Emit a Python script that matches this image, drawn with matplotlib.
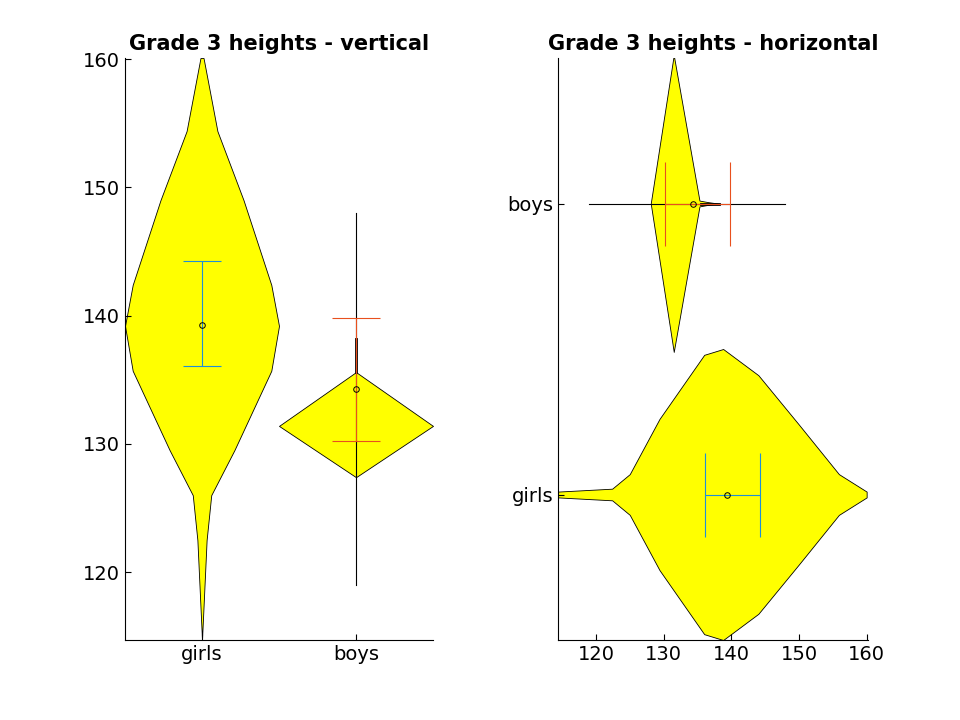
import matplotlib
matplotlib.use("Agg")
import matplotlib.pyplot as plt
import numpy as np

groups = ["girls", "boys"]
# vertical violin outlines: (height value, half width in category units)
girls_v_y = [114.7, 122.5, 126.0, 129.5, 135.7, 139.2, 142.4, 149.0, 154.4, 160.1]
girls_v_w = [0.0, 0.03, 0.06, 0.21, 0.45, 0.50, 0.45, 0.27, 0.10, 0.01]
boys_v_y = [127.4, 131.4, 135.6]
boys_v_w = [0.0, 0.50, 0.0]
# horizontal violin outlines
girls_h_x = [114.4, 122.4, 125.0, 129.4, 136.0, 138.8, 144.0, 150.0, 155.9, 160.0]
girls_h_w = [0.01, 0.02, 0.07, 0.26, 0.48, 0.50, 0.41, 0.24, 0.07, 0.01]
boys_h_x = [128.1, 131.5, 135.3, 136.5, 138.0]
boys_h_w = [0.0, 0.51, 0.01, 0.005, 0.0]

girls_mean, girls_lo, girls_hi = 139.3, 136.1, 144.3
boys_mean, boys_lo, boys_hi = 134.3, 130.2, 139.8
boys_min, boys_max = 119.0, 148.0
boys_q_lo, boys_q_hi = 135.6, 138.2

fig = plt.figure(figsize=(9.6, 7.2), dpi=100)
ax1 = fig.add_axes([125/960, 80/720, 308/960, 582/720])
ax2 = fig.add_axes([558/960, 80/720, 310/960, 582/720])

for ax in (ax1, ax2):
    for s in ("top", "right"):
        ax.spines[s].set_visible(False)
    ax.tick_params(direction="in", labelsize=14, length=4)

# left: vertical
gy = np.array(girls_v_y); gw = np.array(girls_v_w)
ax1.fill_betweenx(gy, 1 - gw, 1 + gw, facecolor="yellow", edgecolor="black", lw=0.6)
by = np.array(boys_v_y); bw = np.array(boys_v_w)
ax1.fill_betweenx(by, 2 - bw, 2 + bw, facecolor="yellow", edgecolor="black", lw=0.6)
ax1.plot([2, 2], [boys_min, boys_max], color="black", lw=0.8)
ax1.plot([2, 2], [boys_q_lo, boys_q_hi], color="black", lw=2)
ax1.errorbar([1], [girls_mean], yerr=[[girls_mean - girls_lo], [girls_hi - girls_mean]],
             color="#1f8fd6", capsize=14, lw=0.8, capthick=0.8)
ax1.errorbar([2], [boys_mean], yerr=[[boys_mean - boys_lo], [boys_hi - boys_mean]],
             color="#e8501e", capsize=17, lw=0.8, capthick=0.8)
ax1.plot([1, 2], [girls_mean, boys_mean], "o", mfc="none", mec="black", ms=4, mew=0.7)
ax1.set_xlim(0.5, 2.5)
ax1.set_ylim(114.7, 160.1)
ax1.set_xticks([1, 2]); ax1.set_xticklabels(groups)
ax1.set_yticks([120, 130, 140, 150, 160])
ax1.set_title("Grade 3 heights - vertical", fontsize=15, fontweight="bold")

# right: horizontal
gx = np.array(girls_h_x); gw2 = np.array(girls_h_w)
ax2.fill_between(gx, 1 - gw2, 1 + gw2, facecolor="yellow", edgecolor="black", lw=0.6)
bx = np.array(boys_h_x); bw2 = np.array(boys_h_w)
ax2.fill_between(bx, 2 - bw2, 2 + bw2, facecolor="yellow", edgecolor="black", lw=0.6)
ax2.plot([boys_min, boys_max], [2, 2], color="black", lw=0.8)
ax2.plot([boys_q_lo, boys_q_hi], [2, 2], color="black", lw=2)
ax2.errorbar([girls_mean], [1], xerr=[[girls_mean - girls_lo], [girls_hi - girls_mean]],
             color="#1f8fd6", capsize=30, lw=0.8, capthick=0.8)
ax2.errorbar([boys_mean], [2], xerr=[[boys_mean - boys_lo], [boys_hi - boys_mean]],
             color="#e8501e", capsize=30, lw=0.8, capthick=0.8)
ax2.plot([girls_mean, boys_mean], [1, 2], "o", mfc="none", mec="black", ms=4, mew=0.7)
ax2.set_ylim(0.5, 2.5)
ax2.set_xlim(114.4, 160.2)
ax2.set_yticks([1, 2]); ax2.set_yticklabels(groups)
ax2.set_xticks([120, 130, 140, 150, 160])
ax2.set_title("Grade 3 heights - horizontal", fontsize=15, fontweight="bold")

fig.savefig("out.png", dpi=100)
